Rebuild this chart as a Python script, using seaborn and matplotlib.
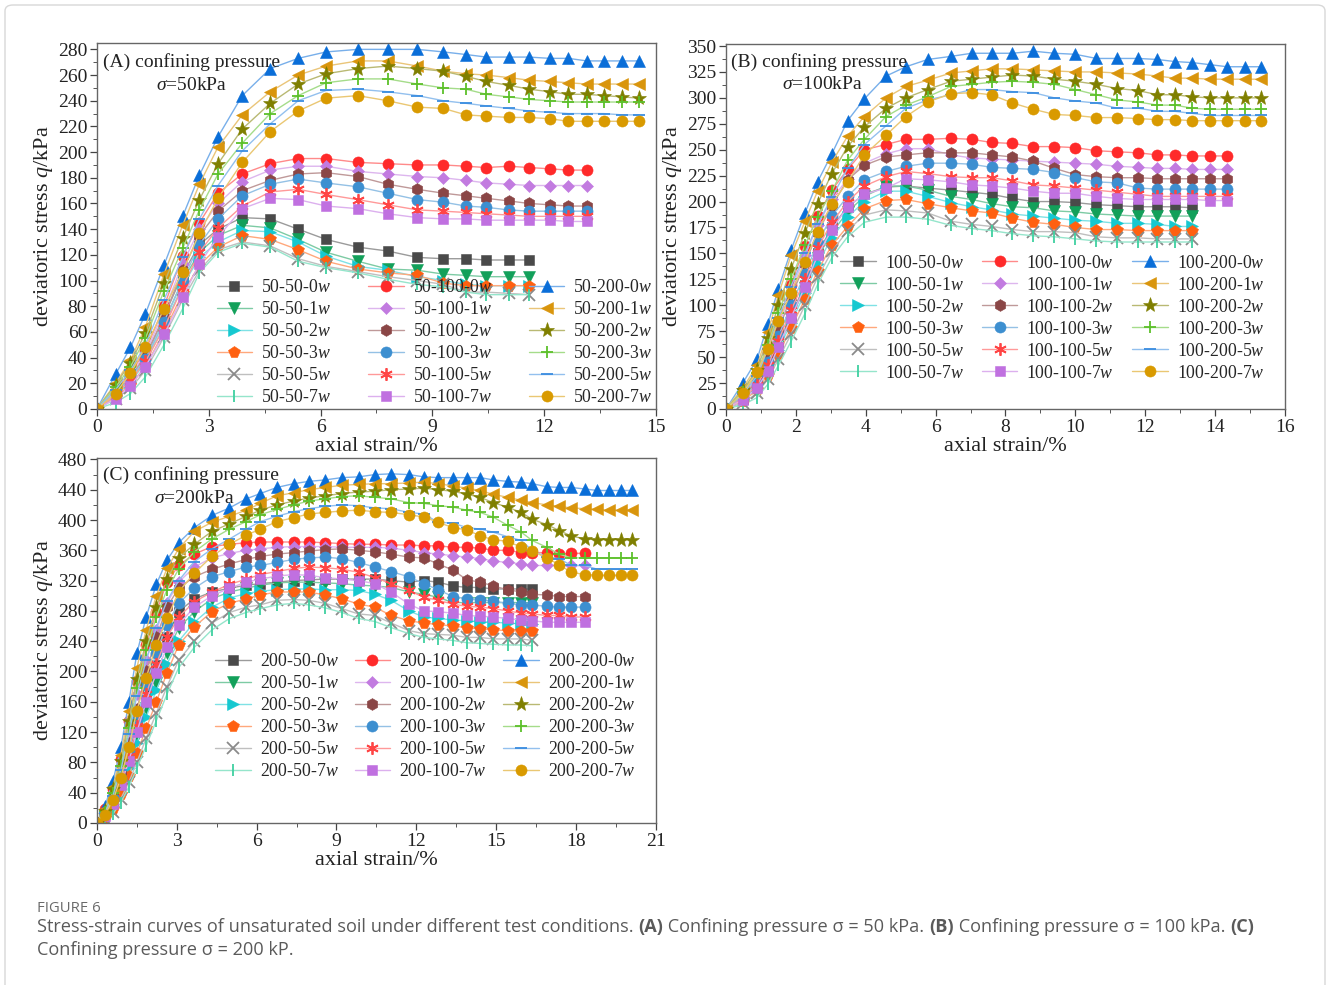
import matplotlib
matplotlib.use("Agg")
import matplotlib.pyplot as plt
import matplotlib.colors as mcolors
from matplotlib.patches import FancyBboxPatch
from matplotlib.ticker import MultipleLocator, FuncFormatter
import numpy as np
import pandas as pd
import seaborn as sns

# axial strain (%) of the readings in each panel
strain_a = [0, 0.5, 0.9, 1.3, 1.8, 2.3, 2.75, 3.25, 3.9, 4.65, 5.4, 6.15, 7.0, 7.8, 8.6, 9.3,
            9.9, 10.45, 11.05, 11.6, 12.15, 12.65, 13.15, 13.6, 14.1, 14.55]
strain_b = [0, 0.48, 0.89, 1.2, 1.5, 1.86, 2.26, 2.62, 3.03, 3.48, 3.96, 4.58, 5.15, 5.77, 6.44,
            7.03, 7.6, 8.2, 8.8, 9.4, 10.0, 10.6, 11.2, 11.8, 12.35, 12.85, 13.35, 13.85, 14.35,
            14.85, 15.3]
strain_c = [0, 0.3, 0.6, 0.9, 1.2, 1.5, 1.85, 2.23, 2.63, 3.07, 3.66, 4.32, 4.98, 5.61, 6.14,
            6.76, 7.39, 7.95, 8.58, 9.2, 9.83, 10.44, 11.05, 11.72, 12.28, 12.82, 13.37, 13.9,
            14.4, 14.88, 15.43, 15.94, 16.35, 16.9, 17.37, 17.82, 18.33, 18.8, 19.22, 19.7, 20.1]

water = ['0', '1', '2', '3', '5', '7']

# deviatoric stress q (kPa), one row per water content 0w,1w,2w,3w,5w,7w
a_50 = [
    [0, 12, 24, 40, 72, 105, 128, 140, 149, 148, 140, 132, 126, 123, 118, 117, 117, 116, 116, 116],
    [0, 11, 22, 38, 68, 100, 122, 135, 143, 141, 132, 122, 115, 109, 108, 105, 104, 103, 103, 103],
    [0, 10, 21, 36, 65, 96, 118, 130, 139, 138, 130, 119, 111, 108, 103, 100, 97, 96, 96, 96],
    [0, 9, 19, 33, 60, 90, 112, 126, 135, 132, 124, 115, 109, 106, 104, 98, 96, 96, 96, 96],
    [0, 8, 16, 30, 56, 85, 108, 124, 130, 127, 117, 111, 107, 103, 100, 97, 91, 91, 90, 89],
    [0, 5, 12, 25, 50, 78, 106, 122, 129, 126, 115, 110, 106, 101, 97, 95, 91, 89, 89, 89],
]
a_100 = [
    [0, 14, 28, 45, 80, 119, 145, 168, 183, 191, 195, 195, 192, 191, 190, 190, 189, 188, 189, 188, 187, 186, 186],
    [0, 13, 26, 43, 76, 113, 140, 160, 177, 186, 189, 189, 185, 183, 181, 180, 178, 176, 175, 174, 174, 174, 174],
    [0, 12, 25, 41, 72, 108, 135, 154, 170, 178, 183, 184, 181, 175, 171, 168, 166, 164, 162, 160, 159, 158, 158],
    [0, 12, 24, 39, 68, 100, 128, 148, 166, 175, 179, 176, 173, 168, 163, 161, 158, 157, 155, 154, 154, 154, 154],
    [0, 11, 22, 37, 63, 95, 122, 141, 158, 169, 171, 167, 163, 159, 155, 154, 153, 152, 151, 150, 150, 150, 150],
    [0, 8, 18, 33, 58, 87, 113, 134, 156, 164, 163, 158, 156, 152, 149, 148, 148, 147, 147, 147, 147, 146, 146],
]
a_200 = [
    [0, 27, 48, 74, 112, 150, 182, 212, 244, 265, 273, 278, 280, 280, 280, 278, 276, 274, 274, 274, 273, 273, 271, 271, 271, 271],
    [0, 20, 38, 64, 105, 143, 175, 204, 229, 247, 260, 267, 271, 271, 267, 263, 261, 260, 258, 256, 255, 254, 253, 253, 253, 253],
    [0, 19, 36, 59, 98, 133, 163, 191, 218, 238, 253, 261, 265, 267, 265, 263, 259, 255, 252, 249, 247, 245, 245, 244, 243, 242],
    [0, 17, 33, 55, 92, 125, 155, 183, 207, 230, 244, 254, 257, 257, 253, 250, 249, 245, 243, 241, 240, 239, 239, 239, 239, 239],
    [0, 15, 30, 50, 85, 118, 148, 174, 201, 222, 240, 248, 249, 247, 244, 240, 238, 236, 234, 232, 231, 230, 230, 230, 229, 229],
    [0, 12, 28, 48, 78, 107, 137, 164, 192, 216, 232, 242, 244, 240, 235, 234, 229, 228, 227, 227, 226, 224, 224, 224, 224, 224],
]

b_50 = [
    [0, 10, 22, 40, 62, 90, 120, 150, 175, 195, 207, 214, 215, 213, 211, 209, 207, 203, 200, 200, 199, 197, 196, 195, 195, 195, 194],
    [0, 10, 21, 38, 60, 87, 117, 146, 170, 190, 205, 215, 215, 211, 205, 202, 198, 195, 194, 191, 190, 188, 187, 186, 186, 186, 186],
    [0, 9, 20, 36, 57, 83, 112, 140, 165, 185, 200, 210, 210, 205, 199, 195, 192, 188, 186, 184, 182, 181, 179, 179, 178, 176, 176],
    [0, 8, 18, 33, 53, 78, 106, 133, 158, 176, 193, 201, 202, 198, 194, 191, 189, 184, 180, 178, 175, 173, 173, 172, 172, 172, 172],
    [0, 6, 15, 29, 48, 72, 100, 127, 152, 172, 187, 192, 191, 189, 181, 178, 176, 173, 171, 171, 170, 166, 165, 165, 164, 164, 164],
    [0, 4, 11, 24, 42, 65, 92, 120, 146, 166, 180, 185, 185, 183, 177, 174, 172, 169, 167, 166, 164, 162, 161, 161, 161, 161, 161],
]
b_100 = [
    [0, 14, 32, 55, 85, 120, 157, 186, 211, 231, 250, 255, 260, 260, 261, 260, 257, 256, 253, 253, 252, 249, 248, 247, 245, 245, 244, 244, 244],
    [0, 13, 30, 52, 80, 113, 148, 177, 202, 222, 237, 246, 251, 251, 245, 242, 241, 240, 239, 238, 237, 236, 234, 233, 232, 232, 231, 231, 231],
    [0, 12, 28, 50, 76, 108, 140, 170, 196, 221, 235, 243, 245, 247, 247, 247, 245, 243, 239, 232, 226, 224, 223, 223, 222, 222, 222, 222, 222],
    [0, 11, 25, 45, 70, 100, 130, 160, 186, 205, 221, 229, 234, 237, 237, 236, 233, 232, 231, 228, 223, 219, 218, 213, 212, 212, 212, 212, 212],
    [0, 10, 23, 42, 66, 95, 125, 155, 180, 200, 215, 224, 229, 227, 224, 223, 223, 220, 216, 215, 213, 211, 209, 207, 205, 205, 205, 205, 205],
    [0, 9, 20, 37, 60, 88, 118, 148, 173, 195, 207, 213, 222, 221, 219, 216, 215, 213, 210, 208, 208, 205, 203, 202, 202, 202, 202, 201, 201],
]
b_200 = [
    [0, 25, 48, 82, 116, 153, 189, 219, 246, 278, 299, 321, 330, 337, 340, 343, 343, 343, 345, 343, 342, 338, 338, 338, 337, 335, 334, 332, 330, 330, 330],
    [0, 20, 42, 74, 110, 148, 181, 210, 238, 263, 282, 300, 311, 317, 324, 326, 328, 328, 327, 326, 325, 325, 324, 323, 321, 319, 319, 318, 318, 318, 318],
    [0, 18, 38, 68, 100, 135, 170, 198, 227, 253, 272, 290, 300, 308, 316, 318, 320, 322, 321, 318, 316, 313, 309, 307, 303, 303, 301, 300, 300, 300, 300],
    [0, 16, 35, 62, 93, 125, 158, 185, 210, 240, 260, 282, 293, 301, 311, 313, 315, 316, 315, 313, 308, 303, 298, 296, 293, 293, 290, 289, 289, 289, 289],
    [0, 14, 32, 58, 88, 118, 150, 178, 204, 232, 255, 273, 290, 298, 303, 308, 308, 306, 305, 300, 297, 295, 290, 290, 287, 287, 285, 283, 283, 283, 283],
    [0, 15, 36, 58, 85, 112, 142, 171, 198, 219, 245, 264, 282, 296, 304, 305, 303, 295, 289, 284, 283, 281, 281, 280, 279, 279, 278, 278, 278, 278, 278],
]

c_50 = [
    [0, 12, 30, 58, 92, 130, 170, 208, 246, 279, 296, 305, 310, 314, 316, 318, 320, 321, 322, 322, 322, 322, 320, 318, 320, 318, 313, 311, 311, 309, 309, 309, 309],
    [0, 10, 26, 50, 80, 115, 152, 185, 225, 257, 279, 296, 305, 310, 314, 317, 318, 318, 317, 316, 314, 313, 311, 305, 302, 298, 291, 291, 291, 291, 291, 291, 291],
    [0, 9, 23, 45, 73, 105, 140, 175, 210, 240, 265, 285, 297, 303, 306, 308, 309, 309, 308, 308, 307, 302, 294, 280, 272, 270, 268, 267, 266, 265, 264, 263, 263],
    [0, 7, 19, 38, 62, 92, 125, 160, 198, 235, 259, 279, 290, 296, 301, 305, 305, 305, 301, 296, 289, 285, 274, 267, 264, 262, 260, 258, 256, 255, 254, 253, 253],
    [0, 5, 15, 32, 54, 80, 112, 145, 180, 215, 240, 264, 278, 285, 288, 294, 295, 294, 290, 283, 276, 274, 264, 254, 250, 249, 248, 245, 245, 243, 243, 243, 241],
    [0, 4, 12, 27, 48, 72, 102, 135, 170, 205, 232, 255, 270, 278, 283, 288, 290, 288, 284, 278, 270, 266, 258, 250, 245, 243, 241, 238, 237, 236, 235, 235, 234],
]
c_100 = [
    [0, 18, 45, 85, 135, 188, 235, 278, 318, 340, 355, 365, 368, 370, 371, 371, 371, 371, 370, 369, 368, 368, 367, 367, 366, 366, 364, 364, 363, 360, 360, 357, 357, 357, 355, 356, 356],
    [0, 15, 40, 75, 120, 170, 215, 255, 290, 318, 338, 350, 356, 360, 362, 364, 365, 365, 365, 364, 364, 364, 363, 360, 357, 355, 353, 351, 349, 346, 344, 342, 340, 340, 340, 340, 340],
    [0, 13, 35, 65, 105, 150, 200, 245, 285, 310, 325, 335, 342, 348, 352, 355, 357, 359, 361, 362, 360, 358, 355, 351, 350, 342, 334, 321, 318, 313, 308, 305, 302, 301, 299, 299, 299],
    [0, 12, 32, 60, 95, 138, 182, 225, 262, 290, 310, 325, 332, 338, 340, 344, 348, 350, 351, 349, 344, 338, 332, 325, 316, 308, 299, 296, 295, 293, 290, 288, 288, 286, 285, 285, 285],
    [0, 10, 28, 55, 88, 128, 170, 210, 245, 272, 292, 305, 315, 322, 328, 332, 336, 338, 337, 335, 331, 324, 316, 307, 298, 294, 289, 286, 285, 283, 280, 277, 276, 274, 274, 272, 272],
    [0, 9, 25, 50, 82, 120, 160, 198, 232, 262, 285, 300, 310, 318, 322, 326, 328, 327, 324, 322, 320, 316, 305, 289, 280, 279, 277, 274, 273, 272, 270, 268, 267, 265, 265, 265, 265],
]
c_200 = [
    [0, 22, 55, 100, 160, 224, 272, 315, 347, 370, 390, 406, 416, 428, 435, 443, 448, 451, 453, 456, 457, 460, 461, 460, 457, 456, 456, 456, 456, 453, 451, 450, 448, 444, 443, 443, 441, 439, 439, 439, 439],
    [0, 18, 48, 90, 148, 205, 255, 300, 336, 362, 385, 397, 405, 413, 422, 432, 436, 440, 443, 446, 447, 448, 448, 449, 450, 448, 445, 442, 439, 434, 430, 426, 423, 420, 418, 416, 415, 414, 413, 413, 413],
    [0, 16, 45, 82, 135, 190, 240, 285, 322, 350, 368, 385, 395, 405, 413, 420, 425, 429, 432, 435, 437, 438, 440, 441, 442, 440, 438, 434, 430, 423, 417, 410, 401, 394, 386, 379, 375, 374, 374, 374, 374],
    [0, 14, 40, 75, 125, 178, 228, 272, 308, 335, 358, 375, 388, 398, 407, 414, 420, 425, 428, 431, 432, 430, 428, 423, 422, 419, 417, 413, 410, 404, 393, 384, 373, 364, 355, 350, 350, 350, 350, 350, 350],
    [0, 13, 36, 70, 117, 168, 215, 258, 293, 320, 345, 362, 375, 388, 398, 405, 411, 415, 418, 420, 419, 416, 415, 410, 408, 397, 396, 390, 388, 384, 378, 373, 360, 351, 349, 340, 340, 335, 335, 335, 335],
    [0, 11, 30, 60, 100, 148, 192, 235, 270, 305, 330, 352, 368, 380, 388, 398, 403, 408, 410, 412, 413, 411, 410, 407, 404, 397, 390, 387, 379, 374, 372, 364, 359, 350, 341, 331, 328, 327, 327, 327, 327],
]

# ---- styles ----
group_colors = {
    '50': ['#4a4a4a', '#12a05a', '#16c8d0', '#ff6010', '#8a8a8a', '#3fd0a0'],
    '100': ['#ff2a2a', '#c27be0', '#8a4646', '#3d8fd0', '#ff4545', '#c070e0'],
    '200': ['#0a6ed8', '#d9950c', '#7f7f00', '#5cc02a', '#3a8de0', '#d99a00'],
}
group_markers = {
    '50': ['s', 'v', '>', 'p', 'x', '|'],
    '100': ['o', 'D', 'h', 'o', (6, 2, 0), 's'],
    '200': ['^', '<', '*', '+', '_', 'o'],
}
group_sizes = {
    '50': [7, 8.5, 8.5, 8.5, 8, 9],
    '100': [8, 6.5, 8.5, 8, 9, 7],
    '200': [8.5, 8.5, 11, 9, 9, 8],
}


def lighter(c, f=0.45):
    r, g, b = mcolors.to_rgb(c)
    return (r + (1 - r) * f, g + (1 - g) * f, b + (1 - b) * f)


sns.set_theme(style='ticks')
plt.rcParams['font.family'] = 'serif'
plt.rcParams['font.serif'] = ['Liberation Serif', 'DejaVu Serif']
plt.rcParams['mathtext.fontset'] = 'custom'
plt.rcParams['mathtext.rm'] = 'Liberation Serif'
plt.rcParams['mathtext.it'] = 'Liberation Serif:italic'
plt.rcParams['axes.formatter.use_mathtext'] = False
plt.rcParams['xtick.direction'] = 'out'
plt.rcParams['ytick.direction'] = 'out'

fig = plt.figure(figsize=(13.28, 9.85), dpi=100)
fig.patch.set_facecolor('white')

panels = [
    dict(name='A', p='50', strain=strain_a, data={'50': a_50, '100': a_100, '200': a_200},
         rect=[0.0730, 0.5848, 0.4209, 0.3716], xlim=15, ylim=285, xmaj=3, ymaj=20,
         leg=(0.993, 0.008), colsp=2.1, ttl=(0.011, 0.948), sig=(0.105, 0.883)),
    dict(name='B', p='100', strain=strain_b, data={'50': b_50, '100': b_100, '200': b_200},
         rect=[0.5467, 0.5848, 0.4209, 0.3706], xlim=16, ylim=352, xmaj=2, ymaj=25,
         leg=(0.963, 0.075), colsp=1.03, ttl=(0.009, 0.951), sig=(0.100, 0.89)),
    dict(name='C', p='200', strain=strain_c, data={'50': c_50, '100': c_100, '200': c_200},
         rect=[0.0730, 0.1645, 0.4209, 0.3706], xlim=21, ylim=482, xmaj=3, ymaj=40,
         leg=(0.963, 0.118), colsp=0.92, ttl=(0.011, 0.953), sig=(0.102, 0.89)),
]

tick_fmt = FuncFormatter(lambda v, pos: f'{v:g}')

for pn in panels:
    ax = fig.add_axes(pn['rect'])
    handles = []
    for g in ['50', '100', '200']:
        for i, w in enumerate(water):
            vals = pn['data'][g][i]
            df = pd.DataFrame({'strain': pn['strain'][:len(vals)], 'q': vals})
            mc = group_colors[g][i]
            mk = group_markers[g][i]
            unfilled = mk in ['x', '|', '+', '_'] or isinstance(mk, tuple)
            lab = f"{pn['p']}-{g}-{w}$w$"
            sns.lineplot(data=df, x='strain', y='q', ax=ax, sort=False, errorbar=None,
                         legend=False, color=lighter(mc), linewidth=1.0, marker=mk,
                         markersize=group_sizes[g][i], markerfacecolor=mc,
                         markeredgecolor=mc, markeredgewidth=1.3 if unfilled else 0.4,
                         label=lab)
            handles.append(ax.lines[-1])
    ax.set_xlim(0, pn['xlim'])
    ax.set_ylim(0, pn['ylim'])
    ax.xaxis.set_major_locator(MultipleLocator(pn['xmaj']))
    ax.xaxis.set_minor_locator(MultipleLocator(pn['xmaj'] / 2))
    ax.yaxis.set_major_locator(MultipleLocator(pn['ymaj']))
    ax.yaxis.set_minor_locator(MultipleLocator(pn['ymaj'] / 2))
    ax.xaxis.set_major_formatter(tick_fmt)
    ax.yaxis.set_major_formatter(tick_fmt)
    ax.tick_params(which='major', length=5, width=0.9, labelsize=14, colors='#444444',
                   labelcolor='#222222', pad=2, labelfontfamily='Liberation Serif')
    ax.tick_params(which='minor', length=3, width=0.7, colors='#555555')
    for s in ax.spines.values():
        s.set_color('#666666')
        s.set_linewidth(1.0)
    ax.set_xlabel('axial strain/%', fontsize=16, color='#222222', labelpad=1)
    ax.set_ylabel('deviatoric stress $q$/kPa', fontsize=16, color='#222222', labelpad=2)
    ax.text(pn['ttl'][0], pn['ttl'][1], f"({pn['name']}) confining pressure",
            transform=ax.transAxes, fontsize=14, va='center', ha='left', color='#222222')
    ax.text(pn['sig'][0], pn['sig'][1], rf"$\sigma$={pn['p']}kPa",
            transform=ax.transAxes, fontsize=14, va='center', ha='left', color='#222222')
    ax.legend(handles=handles, labels=[h.get_label() for h in handles], ncol=3,
              loc='lower right', bbox_to_anchor=pn['leg'], frameon=False, fontsize=12.8,
              handlelength=2.0, handletextpad=0.5, columnspacing=pn['colsp'],
              labelspacing=0.28, borderpad=0.0, borderaxespad=0.0)

# caption
renderer = fig.canvas.get_renderer()
cap_kw = dict(fontsize=13.1, color='#5a5a5a', family='Open Sans', va='center')
fig.text(37 / 1328, 1 - 908 / 985, 'FIGURE 6', fontsize=10.7, color='#6a6a6a',
         family='Open Sans', va='center')


def width_of(txt, bold):
    t1 = fig.text(0, 0, '|' + txt + '|', fontweight='bold' if bold else 'normal', **cap_kw)
    t2 = fig.text(0, 0, '||', fontweight='bold' if bold else 'normal', **cap_kw)
    w = t1.get_window_extent(renderer).width - t2.get_window_extent(renderer).width
    t1.remove()
    t2.remove()
    return w


def caption_line(ypx, parts):
    x = 37.0
    for txt, bold in parts:
        fig.text(x / 1328, 1 - ypx / 985, txt, fontweight='bold' if bold else 'normal', **cap_kw)
        x += width_of(txt, bold)


caption_line(927, [("Stress-strain curves of unsaturated soil under different test conditions. ", False),
                   ("(A)", True), (" Confining pressure \u03c3 = 50 kPa. ", False),
                   ("(B)", True), (" Confining pressure \u03c3 = 100 kPa. ", False),
                   ("(C)", True)])
caption_line(950, [("Confining pressure \u03c3 = 200 kP.", False)])

border = FancyBboxPatch((5 / 1328, -0.02), 1320 / 1328, 1.0 - 5 / 985 + 0.02,
                        boxstyle='round,pad=0,rounding_size=0.006', transform=fig.transFigure,
                        facecolor='none', edgecolor='#d8d8d8', linewidth=1.0)
fig.patches.append(border)

fig.savefig('out.png', dpi=100)
